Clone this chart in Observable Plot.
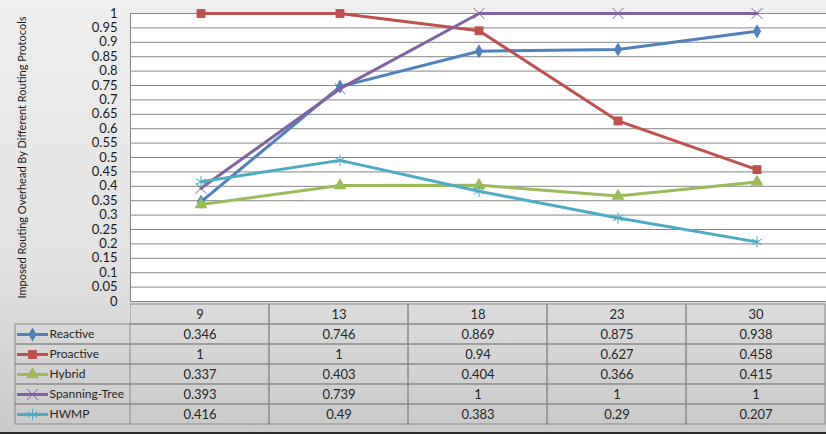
<!DOCTYPE html>
<html>
<head>
<meta charset="utf-8">
<script src="https://cdn.jsdelivr.net/npm/d3@7"></script>
<script src="https://cdn.jsdelivr.net/npm/@observablehq/plot@0.6"></script>
<style>
  html, body { margin: 0; padding: 0; }
  #chart {
    width: 826px; height: 434px; box-sizing: border-box; overflow: hidden;
    background: linear-gradient(to bottom, #efefef 0%, #e2e2e2 60%, #c9c9c9 100%);
    border-bottom: 2px solid #2a2a2a;
    font-family: Lato, "Open Sans", sans-serif;
  }
  #table { display: flex; flex-direction: row; margin-top: -9px; position: relative; }
  svg { display: block; }
</style>
</head>
<body>
<div id="chart">
  <div id="main"></div>
  <div id="table"><div id="legend"></div><div id="values"></div></div>
</div>
<script>
const categories = ["9", "13", "18", "23", "30"];
const seriesNames = ["Reactive", "Proactive", "Hybrid", "Spanning-Tree", "HWMP"];
const reactive = [0.346, 0.746, 0.869, 0.875, 0.938];
const proactive = [1, 1, 0.94, 0.627, 0.458];
const hybrid = [0.337, 0.403, 0.404, 0.366, 0.415];
const spanningTree = [0.393, 0.739, 1, 1, 1];
const hwmp = [0.416, 0.49, 0.383, 0.29, 0.207];
const yTicks = [0, 0.05, 0.1, 0.15, 0.2, 0.25, 0.3, 0.35, 0.4, 0.45, 0.5, 0.55, 0.6, 0.65, 0.7, 0.75, 0.8, 0.85, 0.9, 0.95, 1];
const yTitle = "Imposed Routing Overhead By Different Routing Protocols";

const colors = ["#4f81bd", "#c0504d", "#9bbb59", "#8064a2", "#4bacc6"];
const symbols = ["diamond", "square", "triangle", "times", "asterisk"];
const filled = [true, true, true, false, false];
const sizes = [4.3, 5.0, 4.8, 5.0, 5.4];
const seriesValues = [reactive, proactive, hybrid, spanningTree, hwmp];

const rows = [];
seriesNames.forEach((s, i) => categories.forEach((c, j) => rows.push({series: s, cat: c, value: seriesValues[i][j]})));

const gridColor = "#878787";
const font = 'Lato, "Open Sans", sans-serif';

// Main chart
const marks = [
  Plot.frame({fill: "white"}),
  Plot.ruleY(yTicks, {stroke: gridColor, strokeWidth: 1}),
  Plot.frame({stroke: gridColor, insetRight: -2}),
  Plot.axisY(yTicks, {tickSize: 0, tickPadding: 13, tickFormat: d => String(d), fontSize: 13, fill: "#1a1a1a", label: null}),
  Plot.text([yTitle], {text: d => d, frameAnchor: "left", textAnchor: "middle", rotate: -90, dx: -108, fontSize: 11, fill: "#1a1a1a"})
];
seriesNames.forEach((s, i) => {
  const data = rows.filter(r => r.series === s);
  marks.push(Plot.line(data, {x: "cat", y: "value", stroke: colors[i], strokeWidth: 3}));
  marks.push(Plot.dot(data, {
    x: "cat", y: "value", symbol: symbols[i], r: sizes[i],
    fill: filled[i] ? colors[i] : "none",
    stroke: filled[i] ? "none" : colors[i],
    strokeWidth: 1
  }));
});

const main = Plot.plot({
  width: 826, height: 310,
  marginLeft: 130, marginRight: 0, marginTop: 13, marginBottom: 9,
  x: {type: "band", domain: categories, padding: 0, axis: null},
  y: {domain: [0, 1], axis: null},
  style: {background: "transparent", fontFamily: font},
  marks
});
document.getElementById("main").appendChild(main);

// Data table
const rowDomain = ["hdr", ...seriesNames];
const cellStroke = "#8a8a8a";
const tableH = 131;

const legendMarks = [
  Plot.cell(seriesNames, {y: d => d, fill: "none", stroke: cellStroke})
];
seriesNames.forEach((s, i) => {
  legendMarks.push(Plot.ruleY([s], {y: d => d, stroke: colors[i], strokeWidth: 3, insetLeft: 2, insetRight: 82}));
  legendMarks.push(Plot.dot([s], {
    y: d => d, frameAnchor: "left", dx: 17, symbol: symbols[i], r: sizes[i],
    fill: filled[i] ? colors[i] : "none",
    stroke: filled[i] ? "none" : colors[i], strokeWidth: 1
  }));
});
legendMarks.push(Plot.text(seriesNames, {y: d => d, text: d => d, frameAnchor: "left", dx: 34, textAnchor: "start", fontSize: 12, fill: "#262626"}));

const legend = Plot.plot({
  width: 130, height: tableH,
  marginLeft: 15, marginRight: 0, marginTop: 0, marginBottom: 6,
  y: {type: "band", domain: rowDomain, padding: 0, axis: null},
  style: {background: "transparent", fontFamily: font},
  marks: legendMarks
});
document.getElementById("legend").appendChild(legend);

const values = Plot.plot({
  width: 696, height: tableH,
  marginLeft: 0, marginRight: 1, marginTop: 0, marginBottom: 6,
  x: {type: "band", domain: categories, padding: 0, axis: null},
  y: {type: "band", domain: rowDomain, padding: 0, axis: null},
  style: {background: "transparent", fontFamily: font},
  marks: [
    Plot.cell(categories, {x: d => d, y: () => "hdr", fill: "none", stroke: cellStroke}),
    Plot.cell(rows, {x: "cat", y: "series", fill: "none", stroke: cellStroke}),
    Plot.text(categories, {x: d => d, y: () => "hdr", text: d => d, fontSize: 13, fill: "#262626"}),
    Plot.text(rows, {x: "cat", y: "series", text: d => String(d.value), fontSize: 13, fill: "#262626"})
  ]
});
document.getElementById("values").appendChild(values);
</script>
</body>
</html>
